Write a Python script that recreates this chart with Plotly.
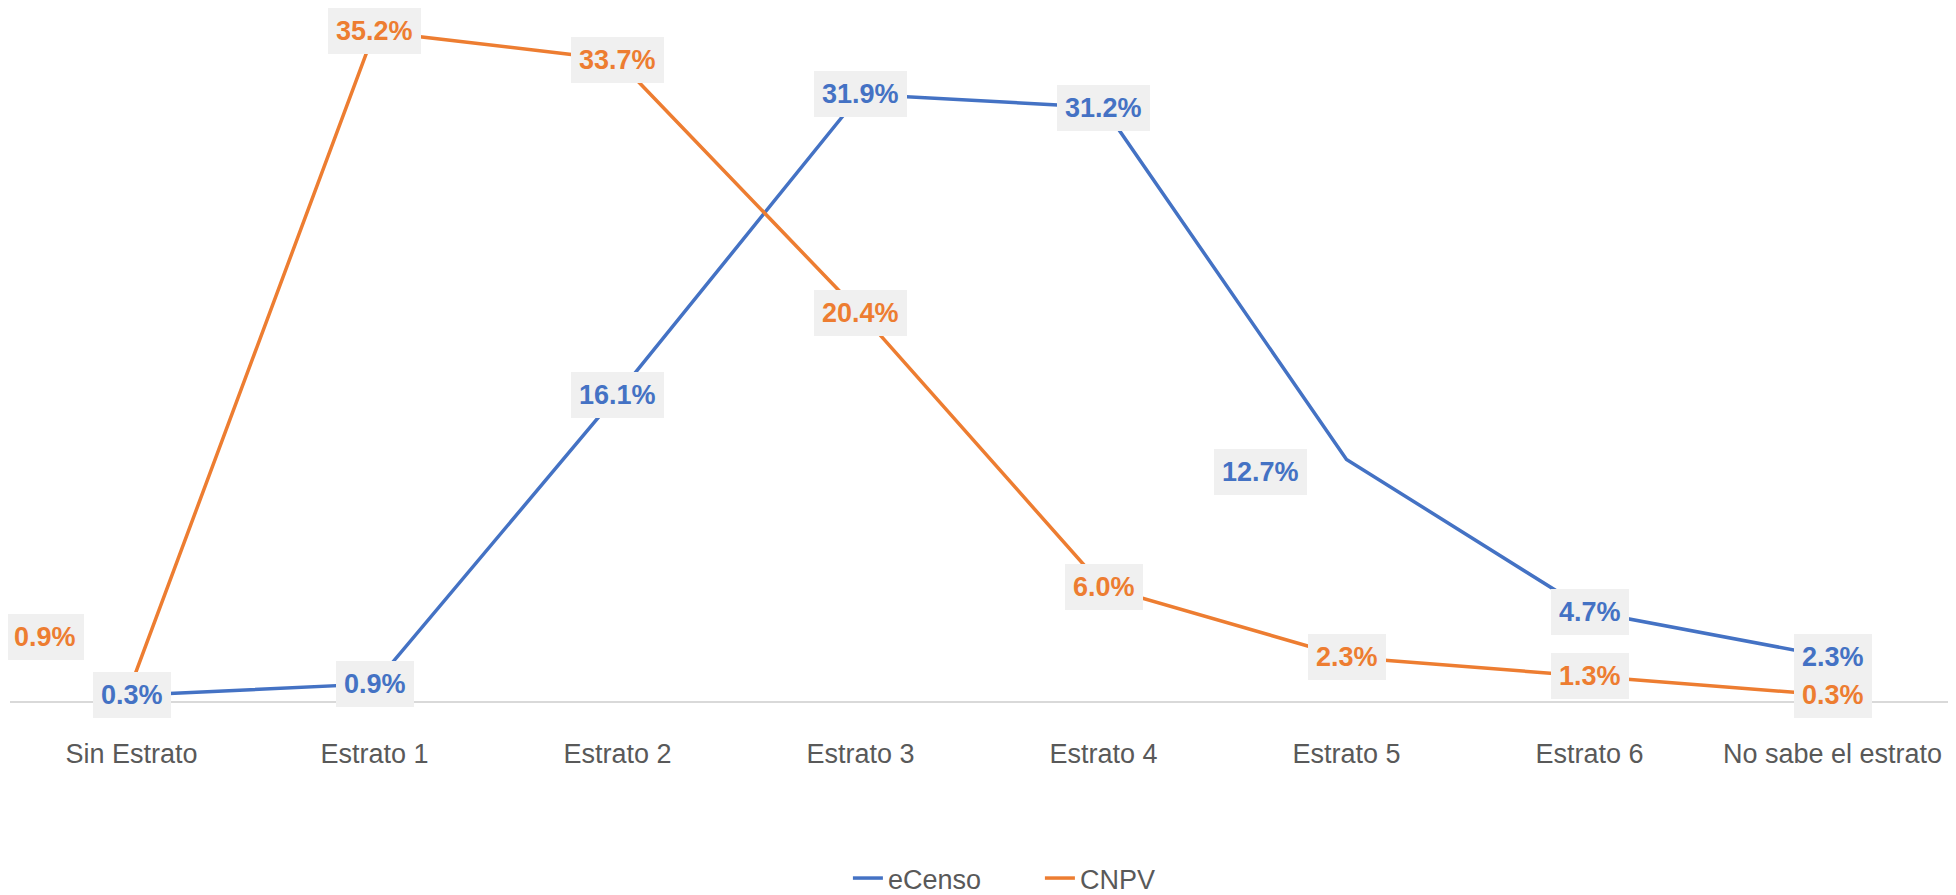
import plotly.graph_objects as go

categories = ["Sin Estrato", "Estrato 1", "Estrato 2", "Estrato 3",
              "Estrato 4", "Estrato 5", "Estrato 6", "No sabe el estrato"]
ecenso = [0.3, 0.9, 16.1, 31.9, 31.2, 12.7, 4.7, 2.3]
cnpv = [0.9, 35.2, 33.7, 20.4, 6.0, 2.3, 1.3, 0.3]

BLUE = "#4472C4"
ORANGE = "#ED7D31"
GRAY_TXT = "#595959"
LABEL_BG = "#F0F0F0"

fig = go.Figure()
fig.add_trace(go.Scatter(x=categories, y=ecenso, mode="lines", name="eCenso",
                         line=dict(color=BLUE, width=3.5)))
fig.add_trace(go.Scatter(x=categories, y=cnpv, mode="lines", name="CNPV",
                         line=dict(color=ORANGE, width=3.5)))

# label offsets (pixels) for labels that Excel moved away from their points
shifts_ecenso = {"Estrato 5": (-86, -13)}
shifts_cnpv = {"Sin Estrato": (-87, 47)}

annotations = []
for series, color, shifts in ((ecenso, BLUE, shifts_ecenso), (cnpv, ORANGE, shifts_cnpv)):
    for cat, val in zip(categories, series):
        dx, dy = shifts.get(cat, (0, 0))
        annotations.append(dict(
            x=cat, y=val, xref="x", yref="y", text=f"{val:.1f}%",
            showarrow=False, xshift=dx, yshift=dy,
            font=dict(family="Liberation Sans, Arial, sans-serif", size=27, color=color, weight="bold"),
            bgcolor=LABEL_BG, borderpad=8, borderwidth=0,
        ))

fig.update_layout(
    width=1956, height=895,
    margin=dict(l=2, r=10, t=12, b=202),
    paper_bgcolor="white", plot_bgcolor="white",
    font=dict(family="Liberation Sans, Arial, sans-serif", color=GRAY_TXT),
    annotations=annotations,
    showlegend=True,
    legend=dict(orientation="h", xref="container", yref="container",
                x=0.4294, xanchor="left", y=0.0, yanchor="bottom",
                entrywidth=147, entrywidthmode="pixels",
                font=dict(size=27, color=GRAY_TXT)),
    xaxis=dict(type="category", showgrid=False, showline=True, linecolor="#D9D9D9",
               linewidth=2, ticks="", tickfont=dict(size=27, color=GRAY_TXT),
               ticklabelstandoff=28, zeroline=False, range=[-0.5, 7.5], fixedrange=True,
               automargin=False),
    yaxis=dict(range=[0, 35.8], visible=False, showgrid=False, zeroline=False, fixedrange=True),
)

fig.write_html("out.html")
